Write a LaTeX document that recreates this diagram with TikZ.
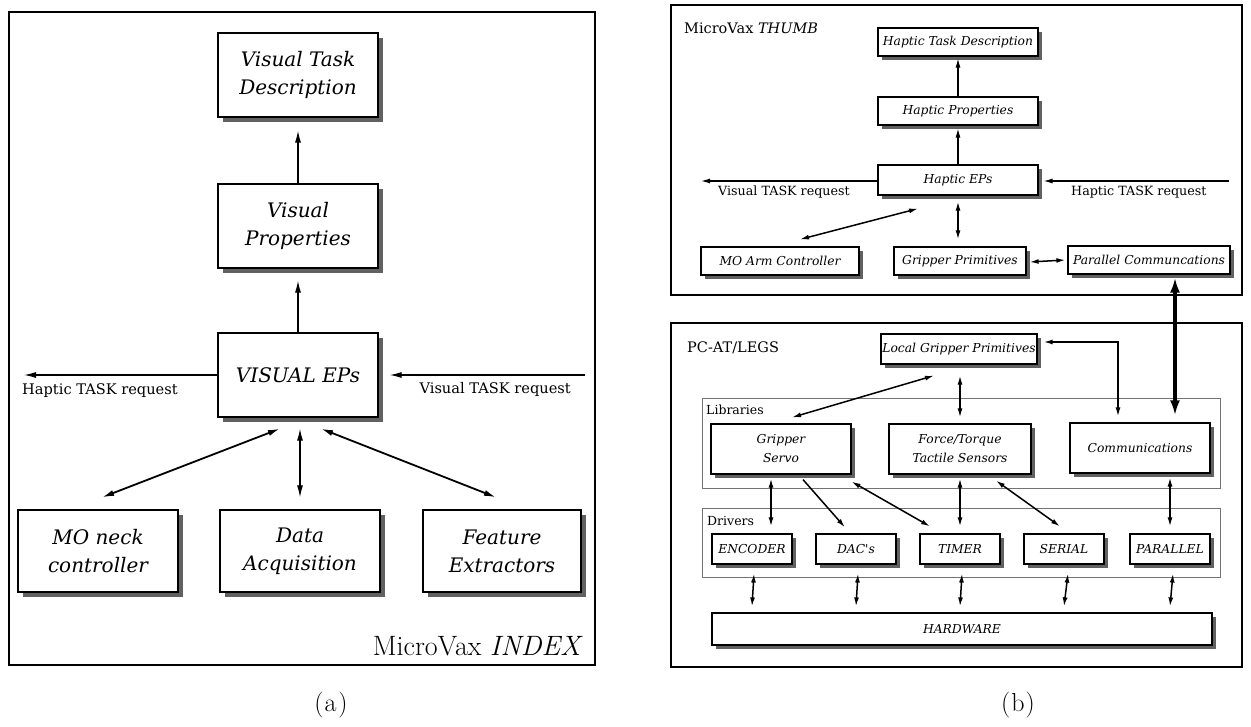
\documentclass[tikz,border=0pt]{standalone}
\usepackage{fontspec}
\newfontfamily\boxfont{DejaVu Serif}
\usetikzlibrary{arrows.meta,shadows}
\tikzset{
  frame/.style={draw, line width=1.4pt},
  subframe/.style={draw=black!55, line width=0.7pt},
  boxbase/.style={draw, fill=white, align=center, inner sep=0pt},
  boxa/.style={boxbase, line width=1.3pt,
    font=\boxfont\itshape\fontsize{20}{28}\selectfont,
    drop shadow={shadow xshift=5pt, shadow yshift=-5pt, opacity=1, fill=black!62}},
  boxb/.style={boxbase, line width=1.2pt,
    font=\boxfont\itshape\fontsize{12.3}{19}\selectfont,
    drop shadow={shadow xshift=4pt, shadow yshift=-4pt, opacity=1, fill=black!62}},
  lbla/.style={font=\boxfont\fontsize{14.6}{16}\selectfont, inner sep=0pt},
  lblb/.style={font=\boxfont\fontsize{12.7}{14}\selectfont, inner sep=0pt},
  titleb/.style={font=\boxfont\fontsize{14.5}{16}\selectfont, inner sep=0pt, anchor=base west},
  subtitle/.style={font=\boxfont\fontsize{12.5}{14}\selectfont, inner sep=0pt, anchor=base west},
  arra/.style={line width=1.2pt, -{Latex[length=12pt,width=6pt]}},
  darra/.style={line width=1.8pt, {Latex[length=12pt,width=6pt]}-{Latex[length=12pt,width=6pt]}},
  varra/.style={line width=1.2pt, {Latex[length=12pt,width=6pt]}-{Latex[length=12pt,width=6pt]}},
  arrb/.style={line width=1.1pt, -{Latex[length=9pt,width=5pt]}},
  darrb/.style={line width=1.5pt, {Latex[length=9pt,width=5pt]}-{Latex[length=9pt,width=5pt]}},
  thick arrow/.style={line width=3.5pt, {Latex[length=15pt,width=10pt]}-{Latex[length=15pt,width=10pt]}},
  caption/.style={font=\fontsize{26}{30}\selectfont, inner sep=0pt}
}
\begin{document}
\begin{tikzpicture}[x=1pt,y=-1pt]
\useasboundingbox (0,0) rectangle (1251,727);

% ================= panel (a) =================
\draw[frame] (9,12) rectangle (595,665);
\node[boxa, minimum width=160, minimum height=84] (VTD) at (298,75) {Visual Task\\Description};
\node[boxa, minimum width=160, minimum height=84] (VP) at (298,226) {Visual\\Properties};
\node[boxa, minimum width=160, minimum height=84] (EP) at (298,375) {VISUAL EPs};
\node[boxa, minimum width=160, minimum height=82] (MO) at (98,551) {MO neck\\controller};
\node[boxa, minimum width=160, minimum height=82] (DA) at (300,551) {Data\\Acquisition};
\node[boxa, minimum width=158, minimum height=82] (FE) at (502,551) {Feature\\Extractors};

\draw[arra] (VP.north) -- ([yshift=-13pt]VTD.south);
\draw[arra] (EP.north) -- ([yshift=-12pt]VP.south);
\coordinate (hl) at (24,375);
\draw[arra] (EP.west) -- (hl);
\node[lbla, anchor=base west] (hlt) at (22,395) {Haptic TASK request};
\coordinate (vr) at (585,375);
\draw[arra] (vr) -- ([xshift=11pt]EP.east);
\node[lbla, anchor=base east] (vrt) at (571,394) {Visual TASK request};

\draw[darra] ([xshift=-18pt,yshift=-11pt]EP.south) -- ([xshift=4pt,yshift=12pt]MO.north);
\draw[varra] ([xshift=2pt,yshift=-11pt]EP.south) -- ([yshift=12pt]DA.north);
\draw[darra] ([xshift=23pt,yshift=-11pt]EP.south) -- ([xshift=-6pt,yshift=12pt]FE.north);

\node[anchor=base east, inner sep=0pt, font=\fontsize{28}{32}\selectfont] (idx) at (583,655) {MicroVax \textit{INDEX}};
\node[caption] (capa) at (331,705) {(\kern1pt a\kern2pt)};

% ================= panel (b) : THUMB =================
\draw[frame] (671,5) rectangle (1242,295);
\node[titleb] (thumb) at (684,34) {MicroVax \textit{THUMB}};
\node[boxb, minimum width=160, minimum height=28] (HTD) at (958,42) {Haptic Task Description};
\node[boxb, minimum width=160, minimum height=28] (HP) at (958,111) {Haptic Properties};
\node[boxb, minimum width=160, minimum height=30] (HEP) at (958,180) {Haptic EPs};
\node[boxb, minimum width=158, minimum height=28] (MOA) at (780,261) {MO Arm Controller};
\node[boxb, minimum width=132, minimum height=28] (GP) at (960,261) {Gripper Primitives};
\node[boxb, minimum width=162, minimum height=28] (PC) at (1149,260) {Parallel Communcations};

\draw[arrb] (HP.north) -- ([yshift=-2pt]HTD.south);
\draw[arrb] (HEP.north) -- ([yshift=-3pt]HP.south);
\coordinate (vtl) at (701,181);
\draw[arrb] ([yshift=-1pt]HEP.west) -- (vtl);
\node[lblb, anchor=base west] (vtlt) at (718,196) {Visual TASK request};
\coordinate (htr) at (1229,181);
\draw[arrb] (htr) -- ([xshift=5pt,yshift=-1pt]HEP.east);
\node[lblb, anchor=base west] (htrt) at (1071,196) {Haptic TASK request};

\draw[darrb] ([xshift=-40pt,yshift=-13pt]HEP.south) -- ([xshift=20pt,yshift=7pt]MOA.north);
\draw[darrb] ([yshift=-6pt]HEP.south) -- ([xshift=-2pt,yshift=7pt]GP.north);
\draw[darrb] ([xshift=3pt,yshift=-1pt]GP.east) -- ([xshift=-2pt]PC.west);

% ================= panel (b) : LEGS =================
\draw[frame] (671,323) rectangle (1242,667);
\node[titleb] (legs) at (687,353) {PC-AT/LEGS};
\node[boxb, minimum width=156, minimum height=30] (LGP) at (959,349) {Local Gripper Primitives};

\draw[subframe] (702,398) rectangle (1220,488);
\node[subtitle] (lib) at (706,414) {Libraries};
\node[boxb, minimum width=140, minimum height=50] (GS) at (781,449) {Gripper\\Servo};
\node[boxb, minimum width=142, minimum height=50] (FT) at (960,449) {Force/Torque\\Tactile Sensors};
\node[boxb, minimum width=140, minimum height=50] (CM) at (1140,448) {Communications};

\draw[subframe] (702,508) rectangle (1220,577);
\node[subtitle] (drv) at (707,525) {Drivers};
\node[boxb, minimum width=80, minimum height=30] (ENC) at (752,549) {ENCODER};
\node[boxb, minimum width=80, minimum height=30] (DAC) at (856,549) {DAC's};
\node[boxb, minimum width=80, minimum height=30] (TIM) at (960,549) {TIMER};
\node[boxb, minimum width=80, minimum height=30] (SER) at (1064,549) {SERIAL};
\node[boxb, minimum width=80, minimum height=30] (PAR) at (1170,549) {PARALLEL};

\node[boxb, minimum width=500, minimum height=32] (HW) at (962,629) {HARDWARE};

% thick link between the two machines
\draw[thick arrow] ([xshift=26pt,yshift=-3pt]PC.south) -- ([xshift=35pt,yshift=7pt]CM.north);

% LGP connections
\coordinate (lc) at (1118,342);
\draw[darrb] ([xshift=6pt,yshift=7pt]LGP.east) -- (lc) -- ([xshift=-22pt,yshift=6pt]CM.north);
\draw[darrb] ([xshift=-25pt,yshift=-11pt]LGP.south) -- ([xshift=11pt,yshift=6pt]GS.north);
\draw[darrb] ([xshift=1pt,yshift=-11pt]LGP.south) -- ([yshift=6pt]FT.north);

% library -> driver connections
\draw[darrb] ([xshift=-10pt,yshift=-4pt]GS.south) -- ([xshift=19pt,yshift=7pt]ENC.north);
\draw[arrb, line width=1.5pt] ([xshift=22pt,yshift=-5pt]GS.south) -- ([xshift=-11pt,yshift=6pt]DAC.north);
\draw[darrb] ([yshift=-7pt]GS.south east) -- ([xshift=-30pt,yshift=7pt]TIM.north);
\draw[darrb] ([yshift=-4pt]FT.south) -- ([yshift=7pt]TIM.north);
\draw[darrb] ([xshift=36pt,yshift=-6pt]FT.south) -- ([xshift=-4pt,yshift=7pt]SER.north);
\draw[darrb] ([xshift=30pt,yshift=-4pt]CM.south) -- ([yshift=7pt]PAR.north);

% driver -> hardware connections
\draw[darrb] ([xshift=2pt,yshift=-9pt]ENC.south) -- ([yshift=6pt]ENC.south |- HW.north);
\draw[darrb] ([xshift=2pt,yshift=-9pt]DAC.south) -- ([yshift=6pt]DAC.south |- HW.north);
\draw[darrb] ([xshift=2pt,yshift=-9pt]TIM.south) -- ([yshift=6pt]TIM.south |- HW.north);
\draw[darrb] ([xshift=4pt,yshift=-9pt]SER.south) -- ([yshift=6pt]SER.south |- HW.north);
\draw[darrb] ([xshift=3pt,yshift=-9pt]PAR.south) -- ([yshift=6pt]PAR.south |- HW.north);

\node[caption] (capb) at (1018,705) {(\kern1pt b\kern1pt)};
\end{tikzpicture}
\end{document}
